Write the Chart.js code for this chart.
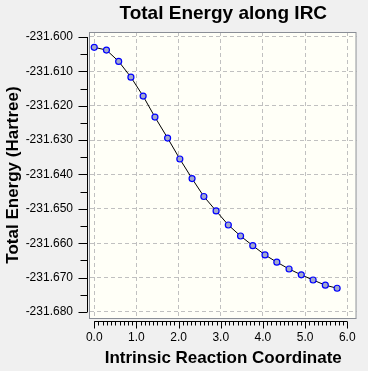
<!DOCTYPE html>
<html lang="en">
<head>
  <meta charset="UTF-8">
  <title>Total Energy along IRC</title>
  <script src="https://cdn.jsdelivr.net/npm/chart.js"></script>
</head>
<style>
  body {
    margin: 0;
    padding: 0;
    background: #f0f0f0;
  }
  canvas {
    display: block;
  }
</style>
<body>
<canvas id="ircChart" width="368" height="371"></canvas>

<script>
  // values
  const ircCoord = [0.00, 0.29, 0.58, 0.87, 1.16, 1.44, 1.74, 2.03, 2.32, 2.60, 2.89,
                    3.18, 3.47, 3.76, 4.05, 4.33, 4.62, 4.91, 5.19, 5.48, 5.76];
  const totalEnergy = [-231.6030, -231.6038, -231.6071, -231.6117, -231.6172, -231.6233,
                       -231.6294, -231.6355, -231.6412, -231.6464, -231.6506, -231.6547,
                       -231.6579, -231.6607, -231.6634, -231.6655, -231.6675, -231.6692,
                       -231.6707, -231.6722, -231.6731];
  const xTicks = [0, 1, 2, 3, 4, 5, 6];
  const yTicks = [-231.680, -231.670, -231.660, -231.650, -231.640, -231.630, -231.620, -231.610, -231.600];

  const FONT = '"Liberation Sans", Arial, sans-serif';

  // background, plot frame and the detached axes with their tick marks
  const framePlugin = {
    id: 'frame',
    beforeDraw(chart) {
      const {ctx, chartArea: a} = chart;
      ctx.save();
      ctx.fillStyle = '#f0f0f0';
      ctx.fillRect(0, 0, chart.width, chart.height);
      ctx.fillStyle = '#fffff7';
      ctx.fillRect(a.left, a.top, a.right - a.left, a.bottom - a.top);
      ctx.restore();
    },
    afterDraw(chart) {
      const {ctx, chartArea: a, scales: {x, y}} = chart;
      ctx.save();
      ctx.strokeStyle = '#8a8e96';
      ctx.lineWidth = 1;
      ctx.strokeRect(a.left - 0.5, a.top + 0.5, a.right - a.left, a.bottom - a.top);

      ctx.strokeStyle = '#000';
      // y axis, left of the plot
      const ax = 87.5;
      ctx.beginPath();
      ctx.moveTo(ax, y.getPixelForValue(-231.600));
      ctx.lineTo(ax, y.getPixelForValue(-231.680));
      for (let i = 0; i <= 16; i++) {
        const py = Math.round(y.getPixelForValue(-231.680 + i * 0.005)) + 0.5;
        ctx.moveTo(ax, py);
        ctx.lineTo(ax - (i % 2 === 0 ? 9 : 7), py);
      }
      ctx.stroke();

      // x axis, below the plot
      const ay = 321.5;
      ctx.beginPath();
      ctx.moveTo(x.getPixelForValue(0), ay);
      ctx.lineTo(x.getPixelForValue(6), ay);
      for (let i = 0; i <= 60; i++) {
        const px = Math.round(x.getPixelForValue(i / 10)) + 0.5;
        ctx.moveTo(px, ay);
        ctx.lineTo(px, ay + (i % 10 === 0 ? 7 : 4));
      }
      ctx.stroke();
      ctx.restore();
    }
  };

  const ctx = document.getElementById('ircChart').getContext('2d');
  const ircChart = new Chart(ctx, {
    type: 'scatter',
    data: {
      datasets: [{
        data: ircCoord.map((v, i) => ({x: v, y: totalEnergy[i]})),
        showLine: true,
        borderColor: '#000000',
        borderWidth: 1,
        tension: 0,
        pointRadius: 3,
        pointBackgroundColor: '#a2a8cc',
        pointBorderColor: '#0000ff',
        pointBorderWidth: 1.2
      }]
    },
    options: {
      responsive: false,
      devicePixelRatio: 1,
      animation: false,
      layout: {
        padding: {left: 0, right: 2, top: 0, bottom: 0}
      },
      plugins: {
        legend: {display: false},
        tooltip: {enabled: false},
        title: {
          display: true,
          text: 'Total Energy along IRC',
          fullSize: false,
          color: '#000',
          font: {family: FONT, size: 19, weight: 'bold'},
          padding: {top: 2, bottom: 7.2}
        }
      },
      scales: {
        x: {
          type: 'linear',
          min: -0.10,
          max: 6.22,
          afterFit(scale) { scale.height = 53; },
          afterBuildTicks(scale) { scale.ticks = xTicks.map(v => ({value: v})); },
          ticks: {
            color: '#000',
            font: {family: FONT, size: 12},
            padding: 12,
            maxRotation: 0,
            callback: v => v.toFixed(1)
          },
          grid: {color: '#c0c0c0', drawTicks: false},
          border: {display: false, dash: [4, 3]},
          title: {
            display: true,
            text: 'Intrinsic Reaction Coordinate',
            color: '#000',
            font: {family: FONT, size: 17, weight: 'bold'},
            padding: {top: 0, bottom: 2}
          }
        },
        y: {
          type: 'linear',
          min: -231.68175,
          max: -231.59855,
          afterFit(scale) { scale.width = 90; },
          afterBuildTicks(scale) { scale.ticks = yTicks.map(v => ({value: v})); },
          ticks: {
            color: '#000',
            font: {family: FONT, size: 12},
            padding: 17,
            callback: v => v.toFixed(3)
          },
          grid: {color: '#c0c0c0', drawTicks: false},
          border: {display: false, dash: [4, 3]},
          title: {
            display: true,
            text: 'Total Energy (Hartree)',
            color: '#000',
            font: {family: FONT, size: 17, weight: 'bold'},
            padding: {top: 3, bottom: 0}
          }
        }
      }
    },
    plugins: [framePlugin]
  });
</script>

</body>
</html>
